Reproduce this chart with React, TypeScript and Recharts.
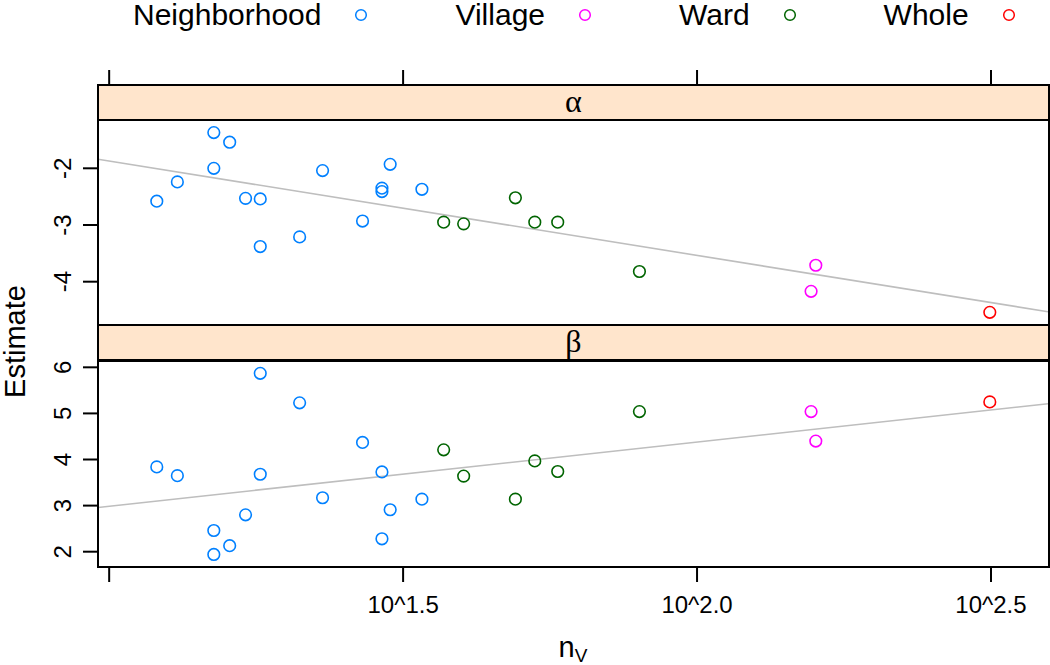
import React from 'react';
import { ScatterChart, Scatter, XAxis, YAxis, ReferenceLine, Legend } from 'recharts';

const groupNames = ['Neighborhood', 'Village', 'Ward', 'Whole'];
const groupColors = ['#0080ff', '#ff00ff', '#006400', '#ff0000'];

// x is log10(n_V); alpha / beta are the estimates in each panel
const neighborhoodLogN = [1.081, 1.116, 1.178, 1.178, 1.205, 1.232, 1.257, 1.257, 1.324, 1.363, 1.431, 1.464, 1.464, 1.478, 1.532];
const neighborhoodAlpha = [-2.58, -2.24, -1.37, -2.0, -1.54, -2.53, -2.54, -3.38, -3.21, -2.04, -2.93, -2.35, -2.41, -1.93, -2.37];
const neighborhoodBeta = [3.84, 3.65, 2.46, 1.94, 2.13, 2.8, 5.87, 3.68, 5.23, 3.17, 4.37, 3.73, 2.28, 2.91, 3.14];

const villageLogN = [2.194, 2.202];
const villageAlpha = [-4.17, -3.71];
const villageBeta = [5.04, 4.4];

const wardLogN = [1.569, 1.603, 1.691, 1.724, 1.763, 1.902];
const wardAlpha = [-2.95, -2.98, -2.52, -2.95, -2.95, -3.82];
const wardBeta = [4.21, 3.64, 3.14, 3.97, 3.74, 5.04];

const wholeLogN = [2.498];
const wholeAlpha = [-4.54];
const wholeBeta = [5.25];

// regression line end points
const fitLogN = [0.981, 2.597];
const alphaFit = [-1.84, -4.53];
const betaFit = [2.96, 5.21];

const xTicks = [1.0, 1.5, 2.0, 2.5];
const xTickLabels = ['', '10^1.5', '10^2.0', '10^2.5'];
const alphaTicks = [-4, -3, -2];
const betaTicks = [2, 3, 4, 5, 6];

const xDomain = [0.981, 2.597];
const alphaDomain = [-4.764, -1.148];
const betaDomain = [1.668, 6.137];

const groups = [
  { logN: neighborhoodLogN, alpha: neighborhoodAlpha, beta: neighborhoodBeta },
  { logN: villageLogN, alpha: villageAlpha, beta: villageBeta },
  { logN: wardLogN, alpha: wardAlpha, beta: wardBeta },
  { logN: wholeLogN, alpha: wholeAlpha, beta: wholeBeta },
];

const FONT = '"Liberation Sans", Arial, sans-serif';

const ring = (color: string) => (props: any) => (
  <circle cx={props.cx} cy={props.cy} r={5.8} fill="none" stroke={color} strokeWidth={1.6} />
);

const SideTick = (props: any) => {
  const { x, y, payload } = props;
  return (
    <text x={x} y={y} transform={`rotate(-90 ${x} ${y})`} textAnchor="middle" fontSize={24} fill="#000">
      {payload.value}
    </text>
  );
};

// top ticks sit above the strip, so they are pushed up by the strip height
const TopTick = (props: any) => (
  <line x1={props.x} x2={props.x} y1={props.y - 35} y2={props.y - 50} stroke="#000" strokeWidth={2} />
);

const renderLegend = (props: any) => (
  <div style={{ display: 'flex', alignItems: 'center', paddingLeft: 133, fontFamily: FONT }}>
    {(props.payload || []).map((p: any) => {
      const color = groupColors[groupNames.indexOf(p.value)];
      return (
        <div key={p.value} style={{ display: 'flex', alignItems: 'center', marginRight: 87 }}>
          <span style={{ fontSize: 30, lineHeight: '30px', color: '#000', whiteSpace: 'nowrap' }}>{p.value}</span>
          <svg width={14} height={14} style={{ marginLeft: 33, flexShrink: 0 }}>
            <circle cx={7} cy={7} r={5.3} fill="none" stroke={color} strokeWidth={1.5} />
          </svg>
        </div>
      );
    })}
  </div>
);

type PanelProps = {
  param: 'alpha' | 'beta';
  yDomain: number[];
  yTicks: number[];
  fit: number[];
  top: boolean;
};

const Panel = ({ param, yDomain, yTicks, fit, top }: PanelProps) => (
  <div style={{ position: 'absolute', left: 0, top: 0 }}>
    <ScatterChart
      width={1050}
      height={665}
      margin={top ? { top: 90, right: 2, bottom: 340, left: 0 } : { top: 361, right: 2, bottom: 0, left: 0 }}
    >
      {top ? (
        <XAxis
          type="number"
          dataKey="x"
          orientation="top"
          height={30}
          domain={xDomain}
          allowDataOverflow
          ticks={xTicks}
          interval={0}
          axisLine={false}
          tickLine={false}
          tickSize={0}
          tickMargin={0}
          tick={<TopTick />}
        />
      ) : (
        <XAxis
          type="number"
          dataKey="x"
          height={98}
          domain={xDomain}
          allowDataOverflow
          ticks={xTicks}
          interval={0}
          axisLine={false}
          tickLine={{ stroke: '#000', strokeWidth: 2 }}
          tickSize={15}
          tickMargin={14}
          tick={{ fill: '#000', fontSize: 24 }}
          tickFormatter={(v: number) => xTickLabels[xTicks.indexOf(v)] ?? ''}
        />
      )}
      <YAxis
        type="number"
        dataKey="y"
        width={98}
        domain={yDomain}
        allowDataOverflow
        ticks={yTicks}
        interval={0}
        axisLine={false}
        tickLine={{ stroke: '#000', strokeWidth: 2 }}
        tickSize={15}
        tickMargin={12}
        tick={<SideTick />}
      />
      <ReferenceLine
        segment={[
          { x: fitLogN[0], y: fit[0] },
          { x: fitLogN[1], y: fit[1] },
        ]}
        stroke="#bebebe"
        strokeWidth={1.6}
        ifOverflow="hidden"
      />
      {groups.map((g, i) => (
        <Scatter
          key={groupNames[i]}
          name={groupNames[i]}
          data={g.logN.map((x, j) => ({ x, y: g[param][j] }))}
          fill={groupColors[i]}
          shape={ring(groupColors[i])}
          legendType="circle"
          isAnimationActive={false}
        />
      ))}
      {top && (
        <Legend
          verticalAlign="middle"
          align="center"
          layout="horizontal"
          wrapperStyle={{ top: 0, left: 0, width: 1050 }}
          content={renderLegend}
        />
      )}
    </ScatterChart>
  </div>
);

const stripStyle: React.CSSProperties = {
  position: 'absolute',
  left: 97,
  width: 953,
  height: 37,
  boxSizing: 'border-box',
  border: '2px solid #000',
  background: '#ffe5cc',
  textAlign: 'center',
  fontFamily: '"Liberation Serif", "DejaVu Serif", serif',
  fontSize: 32,
  lineHeight: '31px',
  color: '#000',
};

const frameStyle: React.CSSProperties = {
  position: 'absolute',
  left: 97,
  width: 953,
  boxSizing: 'border-box',
  border: '2px solid #000',
};

export default function App() {
  return (
    <div style={{ position: 'absolute', left: 0, top: 0, width: 1050, height: 665, background: '#fff', fontFamily: FONT }}>
      <Panel param="alpha" yDomain={alphaDomain} yTicks={alphaTicks} fit={alphaFit} top />
      <Panel param="beta" yDomain={betaDomain} yTicks={betaTicks} fit={betaFit} top={false} />

      <div style={{ ...frameStyle, top: 119, height: 207 }} />
      <div style={{ ...stripStyle, top: 84 }}>α</div>
      <div style={{ ...frameStyle, top: 360, height: 208 }} />
      <div style={{ ...stripStyle, top: 324 }}>β</div>

      <div style={{ position: 'absolute', left: 15, top: 341, width: 0, height: 0 }}>
        <div
          style={{
            position: 'absolute',
            left: -100,
            top: -14.5,
            width: 200,
            textAlign: 'center',
            fontSize: 29,
            lineHeight: '29px',
            transform: 'rotate(-90deg)',
            color: '#000',
          }}
        >
          Estimate
        </div>
      </div>

      <div
        style={{
          position: 'absolute',
          left: 98,
          width: 950,
          top: 633,
          textAlign: 'center',
          fontSize: 29,
          lineHeight: '29px',
          color: '#000',
        }}
      >
        n<span style={{ fontSize: 19, verticalAlign: '-5px' }}>V</span>
      </div>
    </div>
  );
}
